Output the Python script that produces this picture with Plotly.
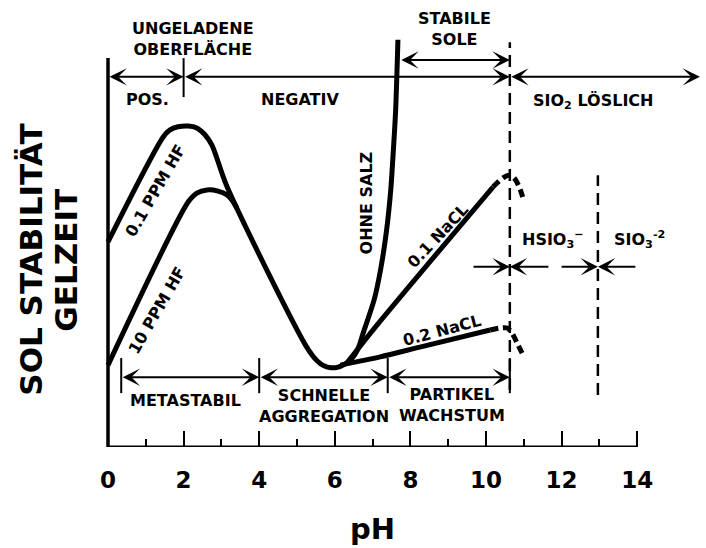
import plotly.graph_objects as go

# ---------------- data (pH vs. relative sol stability / gel time) ----------------
ph_hf01 = [0.00, 1.46, 1.64, 1.85, 2.12, 2.35, 2.57, 2.75, 3.15, 5.27, 5.53, 5.71, 5.90, 6.09, 6.27]
st_hf01 = [52.6, 79.5, 81.3, 82.1, 82.3, 81.8, 80.0, 77.4, 66.7, 25.4, 22.1, 20.8, 20.3, 20.5, 21.3]

ph_hf10 = [0.00, 2.12, 2.35, 2.62, 2.91, 3.15, 3.28, 3.41]
st_hf10 = [21.0, 62.8, 65.1, 65.9, 65.6, 64.6, 63.3, 61.3]

ph_ohne = [6.27, 6.46, 6.61, 6.75, 7.04, 7.21, 7.37, 7.48, 7.55, 7.61, 7.67]
st_ohne = [21.3, 22.8, 25.1, 29.2, 37.7, 45.4, 55.6, 65.9, 76.2, 86.4, 104.4]

ph_nacl01 = [6.35, 7.12, 10.19]
st_nacl01 = [21.9, 31.3, 66.7]
ph_nacl01_ext = [10.19, 10.45, 10.61, 10.74, 10.87, 10.98]
st_nacl01_ext = [66.7, 69.0, 69.7, 69.0, 66.9, 63.8]

ph_nacl02 = [6.15, 7.20, 8.25, 10.11]
st_nacl02 = [21.0, 23.1, 25.6, 30.0]
ph_nacl02_ext = [10.11, 10.37, 10.56, 10.69, 10.82, 10.98]
st_nacl02_ext = [30.0, 30.5, 30.5, 29.2, 26.7, 23.6]

# region boundaries (pH)
ph_iep = 2.0
ph_stable_limit = 10.63
ph_sio3 = 12.96
ph_ohne_top = 7.72
ph_axis_end = 14
ph_arrow_end = 15.66
bracket_ph = [0.35, 4.0, 7.4, 10.63]
ion_tails = [9.63, 11.69, 11.96, 13.99]

x_ticks = [0, 2, 4, 6, 8, 10, 12, 14]
x_minor = [1, 3, 5, 7, 9, 11, 13]

FONT = "DejaVu Sans"
BLACK = "black"

fig = go.Figure()

def curve(x, y, dash="solid", width=5):
    fig.add_trace(go.Scatter(x=x, y=y, mode="lines",
                             line=dict(color=BLACK, width=width, dash=dash,
                                       shape="spline", smoothing=0.8),
                             hoverinfo="skip", showlegend=False))

curve(ph_hf01, st_hf01)
curve(ph_hf10, st_hf10)
curve(ph_ohne, st_ohne)
curve(ph_nacl01, st_nacl01)
curve(ph_nacl01_ext, st_nacl01_ext, dash="8px,5px")
curve(ph_nacl02, st_nacl02)
curve(ph_nacl02_ext, st_nacl02_ext, dash="8px,5px")

# dummy trace for the minor-tick axis
fig.add_trace(go.Scatter(x=[None], y=[None], xaxis="x2", showlegend=False, hoverinfo="skip"))

shapes = []
def vline(x, y0, y1, width=2, dash="solid"):
    shapes.append(dict(type="line", xref="x", yref="y", x0=x, x1=x, y0=y0, y1=y1,
                       line=dict(color=BLACK, width=width, dash=dash)))

# axes
vline(0, 0, 99.7, width=3.5)
shapes.append(dict(type="line", xref="x", yref="y", x0=0, x1=ph_axis_end, y0=0, y1=0,
                   line=dict(color=BLACK, width=3)))
# top row tick at IEP
vline(ph_iep, 89.7, 99.7)
# dashed boundaries
vline(ph_stable_limit, 14.6, 103.8, width=2.5, dash="12px,7px")
vline(ph_sio3, 13.3, 69.7, width=2.5, dash="12px,7px")
# bracket ticks
for p in bracket_ph:
    vline(p, 13.8, 22.8)

annotations = []

def arrow(x_head, x_tail, y, both=True):
    annotations.append(dict(x=x_head, y=y, ax=x_tail, ay=y, xref="x", yref="y",
                            axref="x", ayref="y", text="", showarrow=True,
                            arrowhead=3, startarrowhead=3, arrowsize=1.45,
                            startarrowsize=1.45, arrowwidth=2, arrowcolor=BLACK,
                            arrowside="end+start" if both else "end",
                            standoff=0, startstandoff=0))

top_row = 94.9
arrow(ph_iep, 0, top_row)
arrow(ph_stable_limit, ph_iep, top_row)
arrow(ph_arrow_end, ph_stable_limit, top_row)
arrow(ph_stable_limit, ph_ohne_top, 99.2)
bracket_row = 17.9
for a, b in zip(bracket_ph[:-1], bracket_ph[1:]):
    arrow(b, a, bracket_row)
ion_row = 46.2
arrow(ph_stable_limit, ion_tails[0], ion_row, both=False)
arrow(ph_stable_limit, ion_tails[1], ion_row, both=False)
arrow(ph_sio3, ion_tails[2], ion_row, both=False)
arrow(ph_sio3, ion_tails[3], ion_row, both=False)

def label(x, y, text, size=16, angle=0, xref="x", yref="y"):
    annotations.append(dict(x=x, y=y, xref=xref, yref=yref, text=text, showarrow=False,
                            textangle=angle, xanchor="center", yanchor="middle",
                            font=dict(family=FONT, size=size, color=BLACK, weight="bold")))

label(2.26, 104.5, "UNGELADENE<br>OBERFLÄCHE")
label(1.045, 89.2, "POS.")
label(5.08, 89.2, "NEGATIV")
label(9.17, 107.2, "STABILE<br>SOLE")
label(12.83, 88.7, "SIO<sub>2</sub> LÖSLICH")
label(2.04, 11.8, "METASTABIL")
label(5.71, 10.4, "SCHNELLE<br>AGGREGATION")
label(9.1, 10.8, "PARTIKEL<br>WACHSTUM")
label(11.77, 53.1, "HSIO<sub>3</sub><sup>−</sup>")
label(14.07, 53.1, "SIO<sub>3</sub><sup>-2</sup>")
label(1.26, 65.7, "0.1 PPM HF", angle=-60)
label(1.30, 34.9, "10 PPM HF", angle=-60)
label(6.84, 62.6, "OHNE SALZ", angle=-90)
label(8.74, 54.1, "0.1 NaCL", angle=-47)
label(8.83, 29.8, "0.2 NaCL", angle=-15)

# axis titles
label(-0.0914, 0.418, "SOL STABILITÄT", size=31, angle=-90, xref="paper", yref="paper")
label(-0.0348, 0.418, "GELZEIT", size=31, angle=-90, xref="paper", yref="paper")
label(7.0, -0.183, "pH", size=29, yref="paper")

x_range = [-0.529, 15.82]
fig.update_layout(
    width=706, height=548,
    margin=dict(l=88, r=0, t=0, b=101),
    paper_bgcolor="white", plot_bgcolor="white",
    font=dict(family=FONT, color=BLACK, weight="bold"),
    showlegend=False,
    shapes=shapes,
    annotations=annotations,
    xaxis=dict(range=x_range, showgrid=False, zeroline=False, showline=False,
               tickmode="array", tickvals=x_ticks, ticktext=[str(v) for v in x_ticks],
               ticks="inside", ticklen=16, tickwidth=2, tickcolor=BLACK,
               tickfont=dict(family=FONT, size=23, color=BLACK, weight="bold"),
               ticklabelstandoff=17),
    xaxis2=dict(range=x_range, overlaying="x", anchor="y", side="bottom",
                showgrid=False, zeroline=False, showline=False, showticklabels=False,
                tickmode="array", tickvals=x_minor, ticks="inside", ticklen=8,
                tickwidth=2, tickcolor=BLACK),
    yaxis=dict(range=[0, 114.6], showgrid=False, zeroline=False, showline=False,
               showticklabels=False, ticks=""),
)

fig.write_html("out.html")
